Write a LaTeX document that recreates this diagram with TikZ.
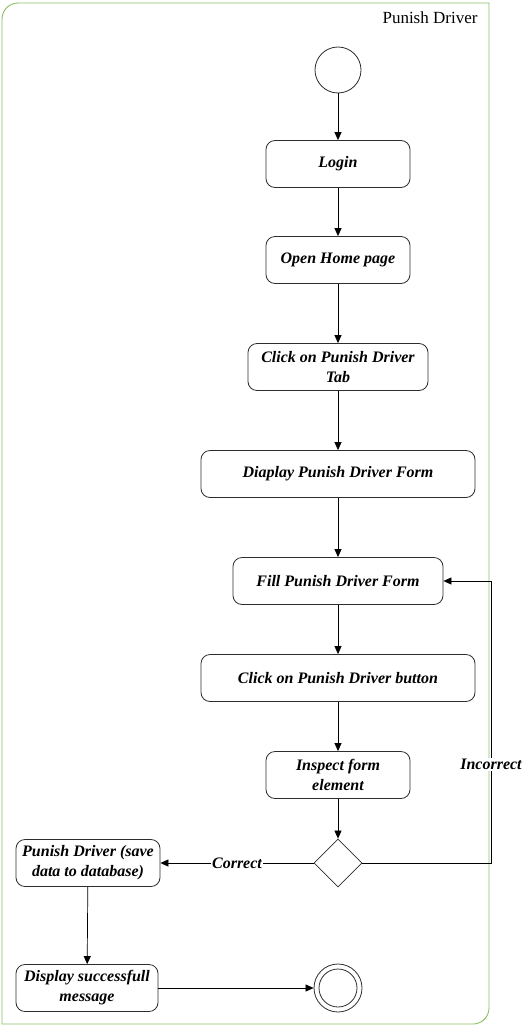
\documentclass[tikz,border=0pt]{standalone}
\usepackage{fontspec}
\setmainfont{Liberation Serif}
\usetikzlibrary{arrows.meta,shapes.geometric}
\definecolor{framegreen}{RGB}{140,190,95}
\definecolor{boxgray}{RGB}{45,45,45}
\tikzset{
	act/.style={draw=boxgray, line width=0.8pt, rounded corners=9pt, minimum height=47pt, align=center,
		font=\fontsize{16}{20}\selectfont\bfseries\itshape},
	lbl/.style={fill=white, inner sep=1pt, font=\fontsize{16}{20}\selectfont\bfseries\itshape},
	flow/.style={-{Triangle[length=8pt,width=7pt]}, draw=black, line width=0.7pt}
}
\begin{document}
\begin{tikzpicture}[x=1pt,y=-1pt]
	\useasboundingbox (0,0) rectangle (530,1028);
	\draw[framegreen, line width=0.9pt] (2,1024) [rounded corners=16pt] -- (2,3) [sharp corners] -- (489,3) [rounded corners=16pt] -- (489,1024) [sharp corners] -- cycle;
	\node[font=\fontsize{17}{20}\selectfont, anchor=east] (title) at (481,18) {Punish Driver};
	
	\node[shape=circle, draw=boxgray, line width=0.8pt, minimum size=46pt, inner sep=0pt] (1) at (338,70) {};
	\node[act, minimum width=144pt] (2) at (338,164) {Login};
	\node[act, minimum width=144pt] (3) at (338,260) {Open Home page};
	\node[act, minimum width=180pt] (4) at (338,367) {Click on Punish Driver\\Tab};
	\node[act, minimum width=274pt] (5) at (338,474) {Diaplay Punish Driver Form};
	\node[act, minimum width=210pt] (6) at (338,581) {Fill Punish Driver Form};
	\node[act, minimum width=274pt] (7) at (338,678) {Click on Punish Driver button};
	\node[act, minimum width=144pt] (8) at (338,775) {Inspect form\\element};
	\node[shape=diamond, draw=boxgray, line width=0.8pt, minimum size=48pt, inner sep=0pt] (9) at (338,863) {};
	\node[act, minimum width=144pt] (10) at (88,863) {Punish Driver (save\\data to database)};
	\node[act, minimum width=142pt] (11) at (87,988) {Display successfull\\message};
	\node[shape=circle, draw=boxgray, line width=0.8pt, minimum size=48pt, inner sep=0pt] (12) at (338,988) {};
	\node[shape=circle, draw=boxgray, line width=0.8pt, minimum size=38pt, inner sep=0pt] at (338,988) {};
	\coordinate (c1) at (491,863);
	\coordinate (c2) at (491,581);
	
	\path [flow] (1) edge (2);
	\path [flow] (2) edge (3);
	\path [flow] (3) edge (4);
	\path [flow] (4) edge (5);
	\path [flow] (5) edge (6);
	\path [flow] (6) edge (7);
	\path [flow] (7) edge (8);
	\path [flow] (8) edge (9);
	\path [flow] (9) edge node[lbl] {Correct} (10);
	\path [flow] (10) edge (11);
	\path [flow] (11) edge (12);
	\draw [flow] (9.east) -- (c1) -- node[lbl, pos=0.35] {Incorrect} (c2) -- (6.east);
\end{tikzpicture}
\end{document}
